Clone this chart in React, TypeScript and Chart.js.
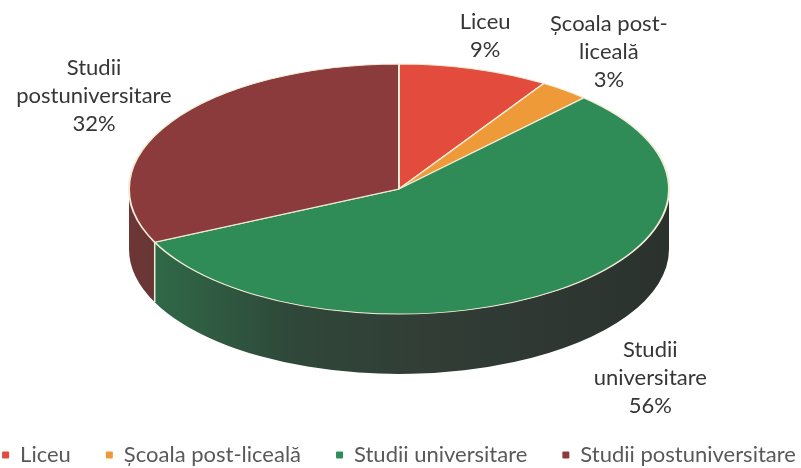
import React, { useEffect, useRef } from 'react';
import { Chart, registerables } from 'chart.js';

Chart.register(...registerables);

// ---- data ----
const categories = ['Liceu', 'Școala post-liceală', 'Studii universitare', 'Studii postuniversitare'];
const values = [9, 3, 56, 32];
const colors = ['#E34B3C', '#EE9A38', '#308C57', '#8B3B3B'];

// ---- style ----
const FONT = 'Lato';
const RADIUS = 270;
const SQUASH = 0.463;
const DEPTH = 60;
const LINE_H = 28;
const RIM = '#F1ECD6';

function hexToRgb(h: string) {
  const n = parseInt(h.slice(1), 16);
  return [(n >> 16) & 255, (n >> 8) & 255, n & 255];
}
function mix(a: string, b: string, t: number) {
  const A = hexToRgb(a), B = hexToRgb(b);
  const c = A.map((v, i) => Math.round(v + (B[i] - v) * t));
  return `rgb(${c[0]},${c[1]},${c[2]})`;
}

function wrapText(ctx: CanvasRenderingContext2D, text: string, maxW: number) {
  const tokens: { t: string; sep: string }[] = [];
  let cur = '';
  for (const ch of text) {
    if (ch === ' ') { if (cur) tokens.push({ t: cur, sep: ' ' }); cur = ''; }
    else if (ch === '-') { cur += ch; tokens.push({ t: cur, sep: '' }); cur = ''; }
    else cur += ch;
  }
  if (cur) tokens.push({ t: cur, sep: '' });
  const lines: string[] = [];
  let line = '';
  let prevSep = '';
  tokens.forEach((tok) => {
    const cand = line ? line + prevSep + tok.t : tok.t;
    if (line && ctx.measureText(cand).width > maxW) { lines.push(line); line = tok.t; }
    else line = cand;
    prevSep = tok.sep;
  });
  if (line) lines.push(line);
  return lines;
}

const pie3d = {
  id: 'pie3d',
  beforeDatasetsDraw(chart: any) {
    const ctx: CanvasRenderingContext2D = chart.ctx;
    const arcs = chart.getDatasetMeta(0).data;
    if (!arcs.length) return;
    const { x: cx, y: cy, outerRadius: r } = arcs[0].getProps(['x', 'y', 'outerRadius']);
    const ry = r * SQUASH;
    const TAU = Math.PI * 2;
    arcs.forEach((arc: any, i: number) => {
      const { startAngle, endAngle } = arc.getProps(['startAngle', 'endAngle']);
      for (let k = -1; k <= 1; k++) {
        const lo = Math.max(startAngle, k * TAU);
        const hi = Math.min(endAngle, k * TAU + Math.PI);
        if (hi <= lo) continue;
        const g = ctx.createLinearGradient(cx - r, 0, cx + r, 0);
        g.addColorStop(0, mix(colors[i], '#2b2b2b', 0.3));
        g.addColorStop(0.3, mix(colors[i], '#2e2e2e', 0.72));
        g.addColorStop(0.55, mix(colors[i], '#323432', 0.9));
        g.addColorStop(1, mix(colors[i], '#2b2b2b', 0.93));
        ctx.beginPath();
        ctx.ellipse(cx, cy, r, ry, 0, lo, hi);
        ctx.ellipse(cx, cy + DEPTH, r, ry, 0, hi, lo, true);
        ctx.closePath();
        ctx.fillStyle = g;
        ctx.fill();
        const bAngles = [startAngle - k * TAU].filter((a) => a > 0.02 && a < Math.PI - 0.02);
        bAngles.forEach((a) => {
          const px = cx + Math.cos(a) * r;
          const py = cy + Math.sin(a) * ry;
          ctx.beginPath();
          ctx.moveTo(px, py);
          ctx.lineTo(px, py + DEPTH);
          ctx.strokeStyle = RIM;
          ctx.lineWidth = 1.5;
          ctx.stroke();
        });
      }
    });
    ctx.save();
    ctx.translate(cx, cy);
    ctx.scale(1, SQUASH);
    ctx.translate(-cx, -cy);
  },
  afterDatasetsDraw(chart: any) {
    if (chart.getDatasetMeta(0).data.length) chart.ctx.restore();
  },
  afterDraw(chart: any) {
    const ctx: CanvasRenderingContext2D = chart.ctx;
    const arcs = chart.getDatasetMeta(0).data;
    const total = values.reduce((a, b) => a + b, 0);
    ctx.save();
    ctx.font = `22px ${FONT}`;
    ctx.fillStyle = '#363636';
    ctx.textAlign = 'center';
    ctx.textBaseline = 'middle';
    arcs.forEach((arc: any, i: number) => {
      const { x: cx, y: cy, startAngle, endAngle, outerRadius: r } =
        arc.getProps(['x', 'y', 'startAngle', 'endAngle', 'outerRadius']);
      const m = (startAngle + endAngle) / 2;
      const lines = [...wrapText(ctx, categories[i], 150), Math.round((values[i] / total) * 100) + '%'];
      const w = Math.max(...lines.map((l) => ctx.measureText(l).width));
      const h = lines.length * LINE_H;
      const c = Math.cos(m), s = Math.sin(m);
      // labels below the rim sit clear of the side wall
      const front = s > 0 ? s : 0;
      const ex = cx + c * r * (1.05 + 0.4 * front);
      const ey = cy + s * r * SQUASH * 1.05 + front * DEPTH;
      const bx = ex + (c * w) / 2;
      const by = ey + (s * h) / 2;
      lines.forEach((l, j) => ctx.fillText(l, bx, by - h / 2 + LINE_H * (j + 0.5)));
    });
    ctx.restore();
  },
};

export default function App() {
  const ref = useRef<HTMLCanvasElement | null>(null);
  useEffect(() => {
    if (!ref.current) return;
    const chart = new Chart(ref.current, {
      type: 'pie',
      data: {
        labels: categories,
        datasets: [
          {
            data: values,
            backgroundColor: colors,
            borderColor: RIM,
            borderWidth: 2,
            radius: RADIUS,
            clip: false as any,
          } as any,
        ],
      },
      options: {
        responsive: false,
        animation: false,
        events: [],
        layout: { padding: 0 },
        plugins: {
          tooltip: { enabled: false },
          legend: {
            position: 'bottom',
            labels: {
              boxWidth: 7,
              boxHeight: 7,
              padding: 35,
              color: '#595959',
              font: { family: FONT, size: 22 },
              generateLabels: (ch: any) =>
                (Chart as any).overrides.pie.plugins.legend.labels
                  .generateLabels(ch)
                  .map((l: any) => ({ ...l, lineWidth: 0, strokeStyle: l.fillStyle, borderRadius: 1 })),
            },
          },
        },
      },
      plugins: [pie3d],
    });
    return () => chart.destroy();
  }, []);
  return (
    <div style={{ position: 'fixed', left: 0, top: 0, width: 801, height: 468, overflow: 'hidden', background: '#fff' }}>
      <div style={{ position: 'absolute', left: -51, top: -31, width: 900, height: 507 }}>
        <canvas ref={ref} width={900} height={507} style={{ display: 'block' }} />
      </div>
    </div>
  );
}
